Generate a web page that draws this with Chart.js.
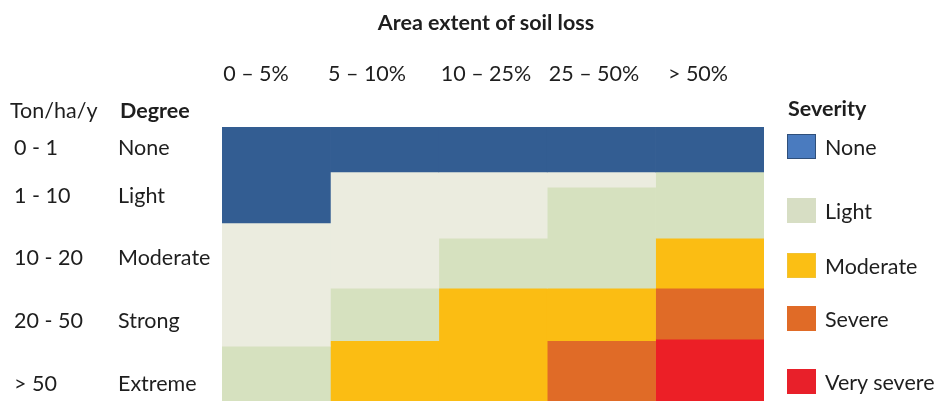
<!DOCTYPE html>
<html>
<head>
<meta charset="utf-8">
<script src="https://cdn.jsdelivr.net/npm/chart.js@4"></script>
<style>
  html, body { margin: 0; padding: 0; background: #ffffff; }
  #wrap { position: relative; width: 938px; height: 401px; overflow: hidden; font-family: Lato, "Open Sans", sans-serif; color: #1e1e1e; }
  #c { position: absolute; left: 0; top: 0; }
  .t { position: absolute; white-space: nowrap; font-size: 21.5px; line-height: 24px; }
  .b { font-weight: bold; }
  .sw { position: absolute; width: 29px; height: 25px; box-sizing: border-box; }
</style>
</head>
<body>
<div id="wrap">
  <canvas id="c" width="938" height="401"></canvas>
</div>
<script>
// ---- data ----
const chartTitle = "Area extent of soil loss";
const areaExtent = ["0 – 5%", "5 – 10%", "10 – 25%", "25 – 50%", "> 50%"];
const soilLossRate = ["0 - 1", "1 - 10", "10 - 20", "20 - 50", "> 50"];
const degree = ["None", "Light", "Moderate", "Strong", "Extreme"];
const severityLabels = ["None", "Light", "Moderate", "Severe", "Very severe"];

// cell extents in row units (0 = top of the matrix, 5 = bottom), one per area-extent column, null = no cell
const noneCells     = [[0, 1.75], [0, 0.82], [0, 0.82], [0, 0.82], [0, 0.82]];
const paleCells     = [[1.75, 4.0], [0.82, 2.94], [0.82, 2.03], [0.82, 1.1], null];
const lightCells    = [[4.0, 5], [2.94, 3.9], [2.03, 2.94], [1.1, 2.94], [0.82, 2.03]];
const moderateCells = [null, [3.9, 5], [2.94, 5], [2.94, 3.9], [2.03, 2.94]];
const severeCells   = [null, null, null, [3.9, 5], [2.94, 3.87]];
const verySevereCells = [null, null, null, null, [3.87, 5]];

// ---- styles ----
const colNone = "#335d92";
const colPale = "#ebecdf";
const colLight = "#d6e1bf";
const colModerate = "#fbbd13";
const colSevere = "#e06b27";
const colVerySevere = "#ec1f26";
const legendSwatch = ["#4a7bbf", "#d7dec4", "#fbbf14", "#e06b27", "#e8202a"];
const legendBorder = ["#2f4f7a", "#d7dec4", "#f1c232", "#e06b27", "#e8202a"];

function ds(label, data, color) {
  return {
    label: label,
    data: data,
    backgroundColor: color,
    borderColor: color,
    borderWidth: 0,
    borderSkipped: false,
    barPercentage: 1,
    categoryPercentage: 1
  };
}

new Chart(document.getElementById("c"), {
  type: "bar",
  data: {
    labels: areaExtent,
    datasets: [
      ds("None", noneCells, colNone),
      ds("Light (lower)", paleCells, colPale),
      ds("Light", lightCells, colLight),
      ds("Moderate", moderateCells, colModerate),
      ds("Severe", severeCells, colSevere),
      ds("Very severe", verySevereCells, colVerySevere)
    ]
  },
  options: {
    responsive: false,
    devicePixelRatio: 1,
    animation: false,
    events: [],
    layout: { padding: { left: 222, right: 174, top: 127, bottom: 0 } },
    plugins: { legend: { display: false }, tooltip: { enabled: false }, title: { display: false } },
    scales: {
      x: { type: "category", stacked: true, display: false, offset: true, grid: { display: false } },
      y: { type: "linear", stacked: false, display: false, min: 0, max: 5, reverse: true }
    }
  }
});

// ---- text (HTML) ----
const wrap = document.getElementById("wrap");
function addText(txt, x, y, cls, align) {
  const d = document.createElement("div");
  d.className = "t" + (cls ? " " + cls : "");
  d.textContent = txt;
  d.style.top = (y - 12) + "px";
  if (align === "center") { d.style.left = x + "px"; d.style.transform = "translateX(-50%)"; }
  else d.style.left = x + "px";
  wrap.appendChild(d);
  return d;
}
addText(chartTitle, 486, 22, "b", "center");
const colLabelX = [256, 367, 486, 594, 698];
areaExtent.forEach((s, i) => addText(s, colLabelX[i], 73, "", "center"));
addText("Ton/ha/y", 10, 110, "");
addText("Degree", 120, 110, "b");
const rowY = [147, 195, 257, 320, 383];
soilLossRate.forEach((s, i) => addText(s, 14, rowY[i], ""));
degree.forEach((s, i) => addText(s, 118, rowY[i], ""));
addText("Severity", 788, 108, "b");
const legY = [147, 211, 266, 319, 382];
severityLabels.forEach((s, i) => {
  const sw = document.createElement("div");
  sw.className = "sw";
  sw.style.left = "787px";
  sw.style.top = (legY[i] - 13) + "px";
  sw.style.background = legendSwatch[i];
  sw.style.border = "1.5px solid " + legendBorder[i];
  wrap.appendChild(sw);
  addText(s, 825, legY[i], "");
});
</script>
</body>
</html>
